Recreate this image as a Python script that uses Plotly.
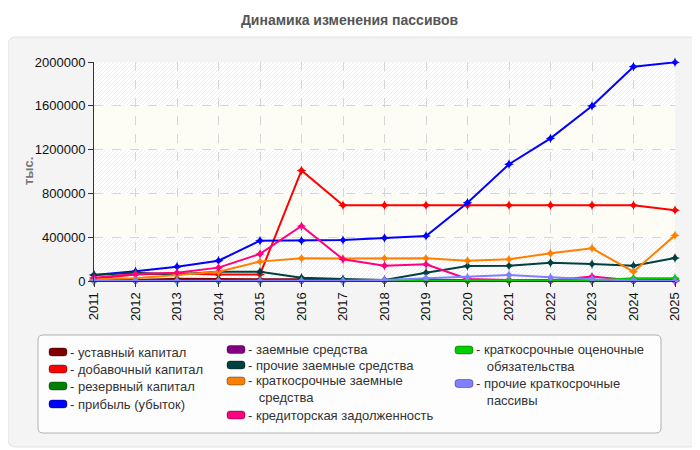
import plotly.graph_objects as go

years = list(range(2011, 2026))

ustavny = [10000, 10000, 20000, 20000, 15000, 15000, 10000, 10000, 10000, 10000, 10000, 10000, 10000, 10000, 10000]
dobavochny = [20000, 60000, 70000, 60000, 60000, 1010000, 692000, 692000, 692000, 692000, 692000, 692000, 692000, 692000, 647000]
rezervny = [3000, 3000, 5000, 3000, 3000, 3000, 3000, 3000, 3000, 3000, 3000, 3000, 3000, 3000, 3000]
pribyl = [55000, 88000, 130000, 185000, 368000, 368000, 374000, 393000, 411000, 715000, 1066000, 1303000, 1598000, 1957000, 1997000]
zaemnye = [0, 0, 0, 0, 0, 0, 0, 0, 0, 0, 0, 0, 0, 0, 0]
prochie_zaemnye = [55000, 76000, 60000, 85000, 85000, 30000, 18000, 10000, 76000, 137000, 140000, 167000, 155000, 140000, 210000]
kratk_zaemnye = [15000, 24000, 55000, 85000, 177000, 207000, 205000, 207000, 207000, 186000, 198000, 253000, 298000, 85000, 417000]
kreditorskaya = [30000, 64000, 76000, 122000, 247000, 502000, 198000, 140000, 152000, 18000, 10000, 5000, 40000, 5000, 0]
otsenochnye = [0, 0, 0, 0, 0, 0, 0, 5000, 5000, 5000, 5000, 5000, 5000, 25000, 25000]
prochie_kratk = [0, 0, 0, 0, 0, 0, 0, 10000, 25000, 34000, 55000, 34000, 16000, 5000, 2000]

y_ticks = [0, 400000, 800000, 1200000, 1600000, 2000000]

series = [
    (["уставный капитал"], ustavny, "#800000"),
    (["добавочный капитал"], dobavochny, "#ff0000"),
    (["резервный капитал"], rezervny, "#008000"),
    (["прибыль (убыток)"], pribyl, "#0000ff"),
    (["заемные средства"], zaemnye, "#800080"),
    (["прочие заемные средства"], prochie_zaemnye, "#004040"),
    (["краткосрочные заемные", "средства"], kratk_zaemnye, "#ff8000"),
    (["кредиторская задолженность"], kreditorskaya, "#ff0080"),
    (["краткосрочные оценочные", "обязательства"], otsenochnye, "#00cc00"),
    (["прочие краткосрочные", "пассивы"], prochie_kratk, "#8080ff"),
]

# legend placement (swatch left x, first line y) in page pixels
legend_pos = [(49, 352), (49, 369), (49, 386), (49, 404),
              (227, 349.5), (227, 365), (227, 381), (227, 415),
              (455, 350), (455, 383.5)]

# page is shifted by the 8px body margin of the browser
OFF = 8
W, H = 692, 442
L, R, T, B = 94 - OFF, 675 - OFF, 62 - OFF, 281 - OFF
pw, ph = R - L, B - T
LINE_H = 13 * 1.3


def px(x):
    return (x - OFF - L) / pw


def py(y):
    return (B - (y - OFF)) / ph


def rounded(x0, y0, x1, y1, r):
    rx, ry = r / pw, r / ph
    a, b, c, d = px(x0), py(y1), px(x1), py(y0)
    return (f"M{a + rx},{b} L{c - rx},{b} Q{c},{b} {c},{b + ry} "
            f"L{c},{d - ry} Q{c},{d} {c - rx},{d} L{a + rx},{d} "
            f"Q{a},{d} {a},{d - ry} L{a},{b + ry} Q{a},{b} {a + rx},{b} Z")


fig = go.Figure()

for lines, vals, color in series:
    fig.add_trace(go.Scatter(
        x=years, y=vals, mode="lines+markers", name=" ".join(lines),
        line=dict(color=color, width=2),
        marker=dict(symbol="star-diamond", size=7, color=color),
        showlegend=False, cliponaxis=False,
    ))

shapes = []
# grey rounded panel
shapes.append(dict(type="path", xref="paper", yref="paper", layer="below",
                   path=rounded(OFF, 37, 697, 447, 8),
                   fillcolor="#f4f4f4", line=dict(color="#e2e2e2", width=1)))
# white plot area with diagonal hatching
shapes.append(dict(type="rect", xref="paper", yref="paper", layer="below",
                   x0=0, x1=1, y0=0, y1=1, fillcolor="white", line_width=0))
segs = []
c = -pw
while c < ph:
    x0 = max(0, -c)
    x1 = min(pw, ph - c)
    if x1 > x0:
        segs.append(f"M{x0 / pw},{(x0 + c) / ph} L{x1 / pw},{(x1 + c) / ph}")
    c += 4
shapes.append(dict(type="path", xref="paper", yref="paper", layer="below",
                   path=" ".join(segs), line=dict(color="#eeeeee", width=1)))
# plain pale bands
for lo, hi in [(y_ticks[1], y_ticks[2]), (y_ticks[3], y_ticks[4])]:
    shapes.append(dict(type="rect", xref="paper", yref="y", layer="below",
                       x0=0, x1=1, y0=lo, y1=hi, fillcolor="#fdfdf6", line_width=0))
# legend box
shapes.append(dict(type="path", xref="paper", yref="paper", layer="below",
                   path=rounded(38, 335, 661, 433, 5),
                   fillcolor="#fdfdfd", line=dict(color="#b0b0b0", width=1)))

annotations = [dict(text="<b>тыс.</b>", xref="paper", yref="paper",
                    x=px(19), y=0.5, textangle=-90, showarrow=False,
                    font=dict(size=13, color="#777777"))]

for (lines, vals, color), (sx, sy) in zip(series, legend_pos):
    shapes.append(dict(type="path", xref="paper", yref="paper", layer="above",
                       path=rounded(sx, sy - 4, sx + 18, sy + 4, 3),
                       fillcolor=color, line=dict(color="rgba(0,0,0,0.35)", width=1)))
    text = "<br>".join(["- " + lines[0]] + ["   " + s for s in lines[1:]])
    annotations.append(dict(text=text, xref="paper", yref="paper", align="left",
                            x=px(sx + 19), y=py(sy + (len(lines) - 1) * LINE_H / 2),
                            xanchor="left", yanchor="middle", showarrow=False,
                            font=dict(size=13, color="#333333")))

fig.update_layout(
    width=W, height=H,
    margin=dict(l=L, r=W - R, t=T, b=H - B),
    paper_bgcolor="white",
    plot_bgcolor="white",
    font=dict(family="Liberation Sans", size=13, color="#222222"),
    title=dict(text="<b>Динамика изменения пассивов</b>", xref="container",
               x=(349.5 - OFF) / W, xanchor="center",
               y=1 - (20 - OFF) / H, yanchor="middle",
               font=dict(family="Liberation Sans", size=14, color="#555555")),
    shapes=shapes,
    annotations=annotations,
    showlegend=False,
    xaxis=dict(range=[years[0], years[-1]], tickvals=years, tickangle=-90,
               showgrid=True, gridcolor="#d6d6d6", griddash="dash",
               showline=True, linecolor="#333333", ticks="outside", ticklen=5,
               tickcolor="#333333", zeroline=False,
               tickfont=dict(size=13, color="#111111")),
    yaxis=dict(range=[0, 2000000], tickvals=y_ticks,
               tickformat="d", showgrid=True, gridcolor="#d6d6d6", griddash="dash",
               showline=True, linecolor="#333333", ticks="outside", ticklen=5,
               tickcolor="#333333", zeroline=False,
               tickfont=dict(size=13, color="#111111")),
)

fig.write_html("out.html")
